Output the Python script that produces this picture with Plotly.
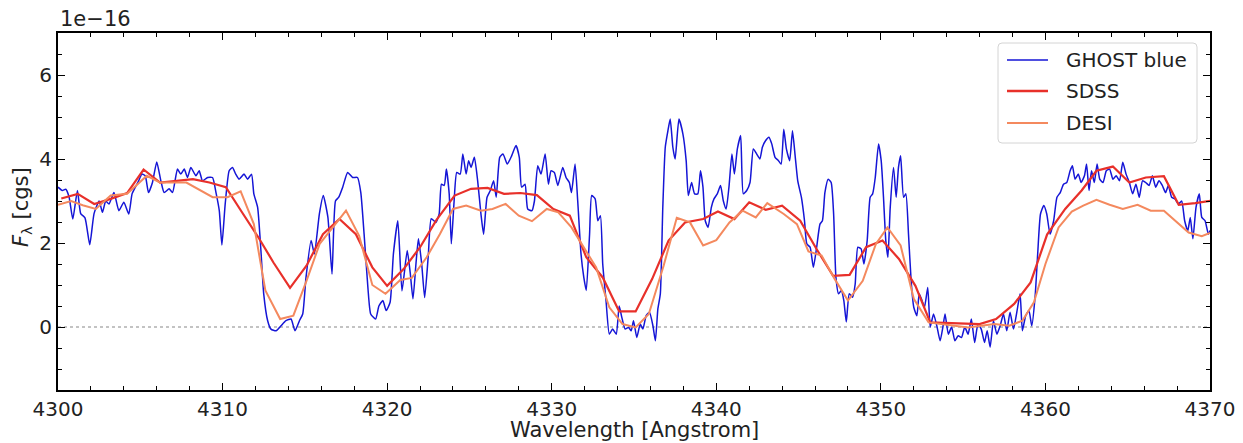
import plotly.graph_objects as go

# ---------------- data (flux in units of 1e-16 cgs) ----------------
ghost_wl = [
    4300.0, 4300.26, 4300.47, 4300.67, 4300.9, 4301.18, 4301.38, 4301.64, 4301.93, 4302.19,
    4302.5, 4302.7, 4302.9, 4303.1, 4303.4, 4303.7, 4304.0, 4304.3, 4304.5, 4304.7,
    4304.9, 4305.1, 4305.3, 4305.5, 4305.74, 4306.0, 4306.25, 4306.45, 4306.75, 4306.96,
    4307.26, 4307.46, 4307.67, 4307.87, 4308.07, 4308.38, 4308.58, 4308.78, 4309.09, 4309.39,
    4309.6, 4309.8, 4309.96, 4310.16, 4310.4, 4310.6, 4310.8, 4311.0, 4311.3, 4311.52,
    4311.76, 4311.9, 4312.13, 4312.33, 4312.5, 4312.74, 4312.94, 4313.25, 4313.55, 4313.85,
    4314.16, 4314.4, 4314.67, 4314.87, 4315.07, 4315.38, 4315.58, 4315.88, 4316.12, 4316.4,
    4316.65, 4316.86, 4317.06, 4317.3, 4317.6, 4317.9, 4318.2, 4318.4, 4318.6, 4318.83,
    4319.0, 4319.3, 4319.5, 4319.74, 4319.94, 4320.18, 4320.38, 4320.65, 4320.9, 4321.22,
    4321.4, 4321.57, 4321.75, 4321.9, 4322.1, 4322.28, 4322.5, 4322.68, 4322.96, 4323.16,
    4323.3, 4323.47, 4323.6, 4323.77, 4323.9, 4324.07, 4324.23, 4324.44, 4324.6, 4324.8,
    4324.95, 4325.1, 4325.3, 4325.5, 4325.7, 4325.86, 4326.07, 4326.27, 4326.47, 4326.63,
    4326.84, 4327.04, 4327.3, 4327.57, 4327.83, 4328.03, 4328.17, 4328.38, 4328.54, 4328.8,
    4328.95, 4329.15, 4329.35, 4329.6, 4329.8, 4329.96, 4330.16, 4330.37, 4330.67, 4330.87,
    4331.07, 4331.2, 4331.42, 4331.58, 4331.78, 4331.95, 4332.1, 4332.3, 4332.43, 4332.64,
    4332.8, 4332.96, 4333.1, 4333.3, 4333.5, 4333.7, 4333.92, 4334.1, 4334.26, 4334.46,
    4334.67, 4334.83, 4334.97, 4335.17, 4335.38, 4335.54, 4335.74, 4335.94, 4336.15, 4336.3,
    4336.45, 4336.6, 4336.75, 4336.9, 4337.06, 4337.2, 4337.36, 4337.5, 4337.73, 4337.97,
    4338.17, 4338.3, 4338.5, 4338.68, 4338.88, 4339.04, 4339.19, 4339.33, 4339.5, 4339.7,
    4339.86, 4340.06, 4340.26, 4340.43, 4340.6, 4340.77, 4340.95, 4341.1, 4341.28, 4341.48,
    4341.64, 4341.85, 4342.05, 4342.25, 4342.45, 4342.65, 4342.8, 4343.0, 4343.2, 4343.37,
    4343.57, 4343.78, 4343.94, 4344.1, 4344.26, 4344.46, 4344.63, 4344.8, 4344.95, 4345.17,
    4345.36, 4345.5, 4345.7, 4345.9, 4346.1, 4346.3, 4346.45, 4346.6, 4346.8, 4346.98,
    4347.13, 4347.27, 4347.43, 4347.6, 4347.75, 4347.9, 4348.08, 4348.28, 4348.44, 4348.6,
    4348.8, 4348.97, 4349.17, 4349.35, 4349.5, 4349.66, 4349.86, 4350.02, 4350.16, 4350.3,
    4350.43, 4350.57, 4350.77, 4350.93, 4351.07, 4351.2, 4351.38, 4351.52, 4351.68, 4351.84,
    4352.0, 4352.19, 4352.33, 4352.5, 4352.65, 4352.85, 4353.0, 4353.2, 4353.4, 4353.6,
    4353.77, 4353.9, 4354.1, 4354.3, 4354.5, 4354.7, 4354.9, 4355.1, 4355.3, 4355.5,
    4355.7, 4355.9, 4356.1, 4356.3, 4356.46, 4356.64, 4356.84, 4357.05, 4357.25, 4357.45,
    4357.65, 4357.85, 4358.06, 4358.26, 4358.46, 4358.6, 4358.8, 4359.0, 4359.17, 4359.37,
    4359.53, 4359.7, 4359.9, 4360.08, 4360.28, 4360.5, 4360.7, 4360.9, 4361.1, 4361.3,
    4361.5, 4361.64, 4361.8, 4362.0, 4362.17, 4362.37, 4362.5, 4362.65, 4362.8, 4362.97,
    4363.14, 4363.3, 4363.5, 4363.7, 4363.9, 4364.1, 4364.3, 4364.5, 4364.7, 4364.9,
    4365.1, 4365.3, 4365.5, 4365.7, 4365.9, 4366.1, 4366.3, 4366.5, 4366.7, 4366.9,
    4367.1, 4367.3, 4367.47, 4367.67, 4367.87, 4368.08, 4368.28, 4368.46, 4368.65, 4368.8,
    4368.96, 4369.15, 4369.35, 4369.5, 4369.7, 4369.9, 4370.0,
]
ghost_flux = [
    3.33, 3.25, 3.28, 3.10, 2.57, 3.25, 2.70, 2.60, 1.96, 2.70,
    3.00, 2.73, 3.00, 2.93, 3.20, 2.77, 2.97, 2.69, 3.17, 3.33,
    3.48, 3.64, 3.60, 3.20, 3.44, 3.93, 3.48, 3.20, 3.29, 3.20,
    3.76, 3.64, 3.76, 3.56, 3.80, 3.60, 3.72, 3.48, 3.56, 3.56,
    3.20, 2.77, 1.95, 2.93, 3.72, 3.80, 3.64, 3.52, 3.64, 3.52,
    3.64, 3.17, 2.85, 1.82, 0.79, 0.15, -0.05, -0.09, 0.03, 0.15,
    0.19, -0.09, 0.15, 0.31, 1.18, 2.06, 1.74, 2.69, 3.13, 2.61,
    1.26, 3.00, 3.09, 3.33, 3.68, 3.56, 3.56, 3.20, 2.21, 0.94,
    0.31, 0.19, 0.50, 0.63, 0.39, 0.59, 1.74, 2.53, 0.86, 1.82,
    1.30, 0.67, 1.50, 2.10, 1.50, 0.70, 1.70, 2.58, 2.49, 2.69,
    3.40, 3.37, 3.76, 3.17, 1.98, 3.00, 3.68, 3.64, 4.12, 3.64,
    3.96, 3.80, 4.04, 3.48, 2.69, 2.21, 3.09, 3.25, 3.48, 3.09,
    4.04, 4.12, 3.88, 4.08, 4.32, 4.04, 3.33, 3.40, 2.81, 2.77,
    3.00, 3.84, 3.64, 4.12, 3.40, 3.72, 3.68, 3.37, 3.80, 3.56,
    3.44, 3.20, 3.88, 3.00, 1.74, 1.18, 0.87, 2.21, 3.13, 3.05,
    2.53, 2.65, 1.50, 0.63, -0.17, -0.05, -0.17, 0.50, 0.23, -0.05,
    -0.01, -0.09, 0.15, -0.25, 0.07, -0.05, 0.27, 0.35, 0.03, -0.33,
    0.43, 0.79, 2.85, 4.28, 4.67, 4.95, 4.28, 4.00, 4.95, 4.60,
    3.96, 3.13, 3.44, 3.17, 3.17, 3.72, 3.33, 2.53, 2.37, 2.85,
    3.05, 3.17, 3.37, 3.00, 2.81, 3.33, 4.12, 3.64, 4.24, 4.56,
    3.17, 3.25, 3.44, 4.24, 4.12, 4.00, 4.28, 4.44, 4.52, 4.36,
    4.04, 3.96, 3.88, 4.71, 4.24, 3.96, 4.67, 4.04, 3.48, 3.09,
    2.53, 1.98, 1.90, 1.42, 1.90, 2.45, 2.53, 3.20, 3.52, 3.44,
    2.69, 1.18, 0.79, 0.87, 0.63, 0.12, 0.79, 0.71, 1.02, 1.90,
    1.86, 1.50, 2.06, 3.09, 3.17, 3.56, 4.36, 3.96, 3.09, 2.06,
    1.66, 2.85, 3.80, 3.09, 3.80, 4.08, 3.09, 3.17, 2.21, 1.10,
    0.47, 0.27, 0.79, 0.63, 0.47, 0.94, 0.00, 0.31, 0.03, -0.33,
    0.00, 0.31, -0.17, 0.00, -0.33, -0.21, -0.25, 0.00, -0.17, 0.19,
    -0.37, 0.07, -0.05, -0.37, -0.09, -0.48, 0.15, -0.17, 0.03, 0.31,
    -0.09, 0.35, -0.05, 0.35, 0.79, -0.09, 0.27, 0.39, 0.03, 0.71,
    1.74, 2.69, 2.89, 2.69, 2.21, 2.53, 3.09, 3.20, 3.40, 3.44,
    3.72, 3.84, 3.52, 3.64, 3.44, 3.60, 3.88, 3.25, 3.72, 3.44,
    3.88, 3.52, 3.44, 3.72, 3.76, 3.52, 3.60, 3.48, 3.92, 3.64,
    3.44, 3.17, 3.40, 3.09, 3.48, 3.44, 3.37, 3.60, 3.33, 3.48,
    3.37, 3.20, 3.37, 3.09, 3.05, 2.93, 3.00, 2.53, 2.29, 2.61,
    2.10, 2.85, 3.17, 2.61, 2.53, 2.21, 2.30,
]

sdss_wl = [
    4300.2, 4301.2, 4302.2, 4303.2, 4304.2, 4305.2, 4306.2, 4307.2, 4308.2, 4309.2,
    4310.2, 4311.2, 4312.2, 4313.1, 4314.1, 4315.1, 4316.1, 4317.1, 4318.1, 4319.1,
    4320.0, 4321.0, 4322.0, 4323.0, 4324.1, 4325.1, 4326.1, 4327.1, 4328.1, 4329.1,
    4330.1, 4331.1, 4332.1, 4333.1, 4334.1, 4335.1, 4336.1, 4337.1, 4338.1, 4339.2,
    4340.1, 4341.1, 4342.0, 4343.0, 4344.0, 4345.1, 4346.1, 4347.1, 4348.1, 4349.1,
    4350.1, 4351.1, 4352.1, 4353.0, 4354.0, 4355.0, 4356.0, 4357.0, 4358.1, 4359.1,
    4360.1, 4361.2, 4362.2, 4363.1, 4364.1, 4365.1, 4366.1, 4367.2, 4368.1, 4369.1,
    4370.1,
]
sdss_flux = [
    3.06, 3.17, 2.93, 3.05, 3.19, 3.75, 3.44, 3.48, 3.52, 3.44,
    3.33, 2.72, 2.12, 1.53, 0.93, 1.46, 2.21, 2.57, 2.21, 1.42,
    0.98, 1.38, 1.90, 2.55, 3.13, 3.29, 3.31, 3.17, 3.19, 3.14,
    2.81, 2.65, 1.66, 1.18, 0.37, 0.37, 1.14, 2.06, 2.49, 2.57,
    2.75, 2.57, 2.97, 2.79, 2.89, 2.53, 1.85, 1.22, 1.24, 1.90,
    2.06, 1.62, 0.98, 0.11, 0.10, 0.09, 0.07, 0.19, 0.55, 1.06,
    2.20, 2.81, 3.25, 3.72, 3.82, 3.44, 3.56, 3.59, 2.91, 2.95,
    3.01,
]

desi_wl = [
    4300.0, 4300.8, 4301.5, 4302.3, 4303.2, 4304.2, 4305.4, 4306.2, 4307.8, 4309.4,
    4310.3, 4311.1, 4311.9, 4312.6, 4313.5, 4314.3, 4315.1, 4315.9, 4316.7, 4317.5,
    4318.3, 4319.1, 4319.9, 4320.8, 4321.5, 4322.4, 4323.2, 4324.0, 4324.8, 4325.7,
    4326.4, 4327.2, 4328.0, 4328.8, 4329.7, 4330.4, 4331.2, 4332.0, 4332.7, 4333.5,
    4334.3, 4335.1, 4335.9, 4336.8, 4337.6, 4338.4, 4339.2, 4340.0, 4340.8, 4341.6,
    4342.4, 4343.1, 4344.1, 4344.9, 4345.6, 4346.4, 4347.2, 4348.0, 4348.9, 4349.7,
    4350.4, 4351.2, 4352.0, 4352.9, 4353.7, 4354.5, 4355.3, 4356.1, 4356.9, 4357.8,
    4358.6, 4359.3, 4360.0, 4360.8, 4361.6, 4362.3, 4363.1, 4363.9, 4364.7, 4365.6,
    4366.4, 4367.2, 4367.9, 4368.7, 4369.5, 4370.0,
]
desi_flux = [
    2.91, 3.00, 2.90, 2.81, 3.13, 3.17, 3.60, 3.44, 3.44, 3.09,
    3.09, 3.23, 2.45, 0.87, 0.19, 0.27, 1.10, 1.98, 2.37, 2.77,
    2.17, 1.00, 0.79, 1.12, 1.17, 1.66, 2.21, 2.81, 2.89, 2.77,
    2.81, 2.93, 2.65, 2.52, 2.81, 2.73, 2.37, 1.86, 1.42, 0.47,
    0.07, -0.01, 0.31, 1.46, 2.60, 2.49, 1.94, 2.07, 2.49, 2.77,
    2.61, 2.95, 2.69, 2.45, 1.80, 1.70, 1.14, 0.63, 1.10, 1.98,
    2.37, 1.94, 0.67, 0.11, 0.07, 0.02, -0.01, 0.03, 0.07, 0.03,
    0.15, 0.59, 1.50, 2.37, 2.75, 2.89, 3.03, 2.91, 2.81, 2.91,
    2.77, 2.77, 2.53, 2.25, 2.16, 2.24,
]

series_names = ["GHOST blue", "SDSS", "DESI"]
series_colors = ["#1515d6", "#e8302a", "#f4895e"]
series_widths = [1.5, 2.2, 2.0]

x_range = [4300, 4370]
y_range = [-1.5, 7]

# ---------------- figure geometry (pixels) ----------------
W, H = 1243, 443
ML, MR, MT, MB = 58, 33, 33, 53
PW, PH = W - ML - MR, H - MT - MB


def px(xp):  # pixel x -> paper x
    return (xp - ML) / PW


def py(yp):  # pixel y -> paper y
    return (H - MB - yp) / PH


FONT = "DejaVu Sans, Liberation Sans, sans-serif"
TXT = "#222222"
FS_TICK = 20
FS_LABEL = 21
fig = go.Figure()

all_x = [ghost_wl, sdss_wl, desi_wl]
all_y = [ghost_flux, sdss_flux, desi_flux]
for i in range(3):
    line = dict(color=series_colors[i], width=series_widths[i])
    if i == 0:
        line.update(shape="spline", smoothing=0.5)
    fig.add_trace(go.Scatter(x=all_x[i], y=all_y[i], mode="lines",
                             name=series_names[i], line=line, showlegend=False))

# dotted zero line
fig.add_shape(type="line", xref="paper", x0=0, x1=1, yref="y", y0=0, y1=0,
              line=dict(color="#888888", width=1.2, dash="dot"), layer="below")

axis_common = dict(
    showline=True, linecolor="black", linewidth=1.8, mirror="allticks",
    ticks="inside", ticklen=7, tickwidth=1.3, tickcolor="black",
    showgrid=False, zeroline=False, automargin=False,
    tickfont=dict(family=FONT, size=FS_TICK, color=TXT),
)

fig.update_xaxes(
    range=x_range, dtick=10, tick0=4300,
    minor=dict(ticks="inside", ticklen=4, tickwidth=1.1, tickcolor="black", dtick=2),
    **axis_common,
)
fig.update_yaxes(
    range=y_range, dtick=2, tick0=0,
    minor=dict(ticks="inside", ticklen=4, tickwidth=1.1, tickcolor="black", dtick=0.5),
    **axis_common,
)

# axis titles and offset text
fig.add_annotation(text="Wavelength [Angstrom]", xref="paper", yref="paper",
                   x=0.5, y=py(443), xanchor="center", yanchor="bottom", showarrow=False,
                   borderpad=0, font=dict(family=FONT, size=FS_LABEL, color=TXT))
fig.add_annotation(text="<i>F</i><sub>λ</sub> [cgs]", xref="paper", yref="paper",
                   x=px(22), y=py(207), xanchor="center", yanchor="middle", showarrow=False,
                   textangle=-90, font=dict(family=FONT, size=FS_LABEL, color=TXT))
fig.add_annotation(text="1e\u221216", xref="paper", yref="paper", x=0, y=py(19),
                   xanchor="left", yanchor="middle", showarrow=False,
                   font=dict(family=FONT, size=FS_LABEL, color=TXT))

# legend (drawn manually to match spacing)
bx0, bx1, by0, by1, r = 998, 1197, 43, 143, 4
path = (f"M {px(bx0 + r)},{py(by0)} L {px(bx1 - r)},{py(by0)} "
        f"Q {px(bx1)},{py(by0)} {px(bx1)},{py(by0 + r)} "
        f"L {px(bx1)},{py(by1 - r)} Q {px(bx1)},{py(by1)} {px(bx1 - r)},{py(by1)} "
        f"L {px(bx0 + r)},{py(by1)} Q {px(bx0)},{py(by1)} {px(bx0)},{py(by1 - r)} "
        f"L {px(bx0)},{py(by0 + r)} Q {px(bx0)},{py(by0)} {px(bx0 + r)},{py(by0)} Z")
fig.add_shape(type="path", path=path, xref="paper", yref="paper",
              fillcolor="rgba(255,255,255,0.85)", line=dict(color="#d4d4d4", width=1))
row_y = [60, 91, 123]
for i in range(3):
    fig.add_shape(type="line", xref="paper", yref="paper",
                  x0=px(1007), x1=px(1048), y0=py(row_y[i]), y1=py(row_y[i]),
                  line=dict(color=series_colors[i], width=series_widths[i] + 0.2))
    fig.add_annotation(text=series_names[i], xref="paper", yref="paper",
                       x=px(1064), y=py(row_y[i]), xanchor="left", yanchor="middle",
                       showarrow=False, font=dict(family=FONT, size=20, color=TXT))

fig.update_layout(
    width=W, height=H,
    margin=dict(l=ML, r=MR, t=MT, b=MB, autoexpand=False),
    paper_bgcolor="white", plot_bgcolor="white",
    showlegend=False,
    hovermode=False,
)

fig.write_html("out.html", config={"displayModeBar": False},
               post_script="document.body.style.margin='0';document.body.style.padding='0';")
